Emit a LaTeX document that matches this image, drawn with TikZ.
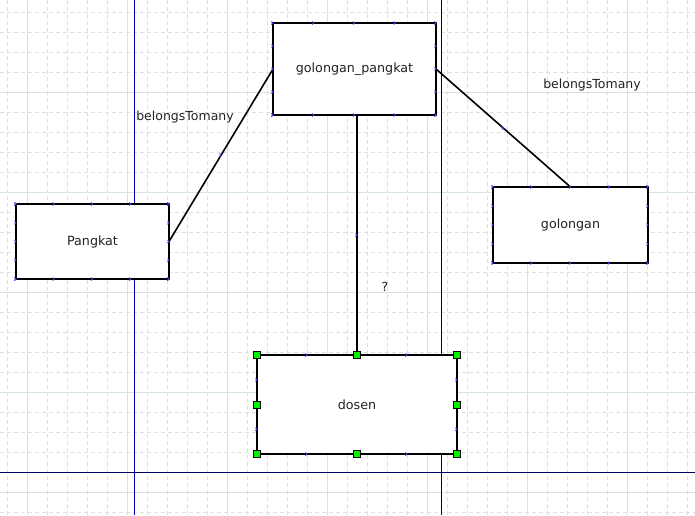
\documentclass[tikz,border=0pt]{standalone}
\usepackage{fontspec}
\setmainfont{DejaVu Sans}
\usetikzlibrary{calc}
\definecolor{minorgrid}{RGB}{220,224,222}
\definecolor{majorgrid}{RGB}{214,228,224}
\definecolor{pageline}{RGB}{0,0,100}
\definecolor{pageblue}{RGB}{0,0,190}
\definecolor{mkblue}{RGB}{60,60,230}
\definecolor{txt}{RGB}{34,34,34}
\definecolor{handle}{RGB}{0,240,0}
\tikzset{
  box/.style={draw=black,line width=2pt,fill=white,inner sep=0pt,outer sep=0pt,
    font=\fontsize{12.7}{15}\selectfont,text=txt},
  lbl/.style={font=\fontsize{12.5}{15}\selectfont,text=txt,inner sep=0pt},
  conn/.style={draw=black,line width=1.6pt},
  mk/.pic={\draw[mkblue,line width=0.8pt] (-1.5,-1.5)--(0,0)--(-1.5,1.5);},
  hd/.pic={\filldraw[fill=handle,draw=black,line width=0.6pt] (-3.5,-3.5) rectangle (3.5,3.5);}
}
\begin{document}
\begin{tikzpicture}[x=1pt,y=-1pt]
\useasboundingbox (0,0) rectangle (695,515);
\fill[white] (0,0) rectangle (695,515);
% minor grid
\foreach \i in {0,...,34} {\draw[minorgrid,line width=0.8pt,dash pattern=on 4pt off 3pt] (7.5+20*\i,0) -- (7.5+20*\i,515);}
\foreach \j in {0,...,25} {\draw[minorgrid,line width=0.8pt,dash pattern=on 4pt off 3pt] (0,12+20*\j) -- (695,12+20*\j);}
% major grid
\foreach \i in {0,...,6} {\draw[majorgrid,line width=0.8pt] (27.5+100*\i,0) -- (27.5+100*\i,515);}
\foreach \j in {0,...,4} {\draw[majorgrid,line width=0.8pt] (0,92+100*\j) -- (695,92+100*\j);}
% page lines
\draw[pageblue,line width=0.9pt] (134,0) -- (134,515);
\draw[pageline,line width=0.9pt] (441,0) -- (441,515);
\draw[pageline,line width=0.9pt] (0,472.5) -- (695,472.5);

% boxes
\node[box,minimum width=163pt,minimum height=92pt] (gp) at (354.5,69) {golongan\_pangkat};
\node[box,minimum width=153pt,minimum height=75pt] (pk) at (92.5,241.5) {Pangkat};
\node[box,minimum width=155pt,minimum height=76pt] (gl) at (570.5,225) {golongan};
\node[box,minimum width=200pt,minimum height=99pt] (ds) at (357,404.5) {dosen};

% connectors
\draw[conn] (pk.east) -- (gp.west) coordinate[midway] (m1);
\draw[conn] (gp.east) -- (gl.north) coordinate[midway] (m2);
\draw[conn] (ds.north) -- (ds.north |- gp.south) coordinate[midway] (m3);
\foreach \m in {m1,m2,m3} {\path (\m) pic{mk};}

% labels
\node[lbl] (l1) at (185,117) {belongsTomany};
\node[lbl] (l2) at (592,85) {belongsTomany};
\node[lbl] (l3) at (385,287) {?};

% connection markers
\foreach \n in {gp,pk,gl} {
  \foreach \f in {0,0.25,0.5,0.75,1} {
    \path ($(\n.north west)!\f!(\n.north east)$) pic{mk};
    \path ($(\n.south west)!\f!(\n.south east)$) pic{mk};
    \path ($(\n.north west)!\f!(\n.south west)$) pic{mk};
    \path ($(\n.north east)!\f!(\n.south east)$) pic{mk};
  }
}
\foreach \f in {0.25,0.75} {
  \path ($(ds.north west)!\f!(ds.north east)$) pic{mk};
  \path ($(ds.south west)!\f!(ds.south east)$) pic{mk};
  \path ($(ds.north west)!\f!(ds.south west)$) pic{mk};
  \path ($(ds.north east)!\f!(ds.south east)$) pic{mk};
}
\foreach \a in {north west,north,north east,west,east,south west,south,south east} {
  \path (ds.\a) pic{hd};
}
\end{tikzpicture}
\end{document}
